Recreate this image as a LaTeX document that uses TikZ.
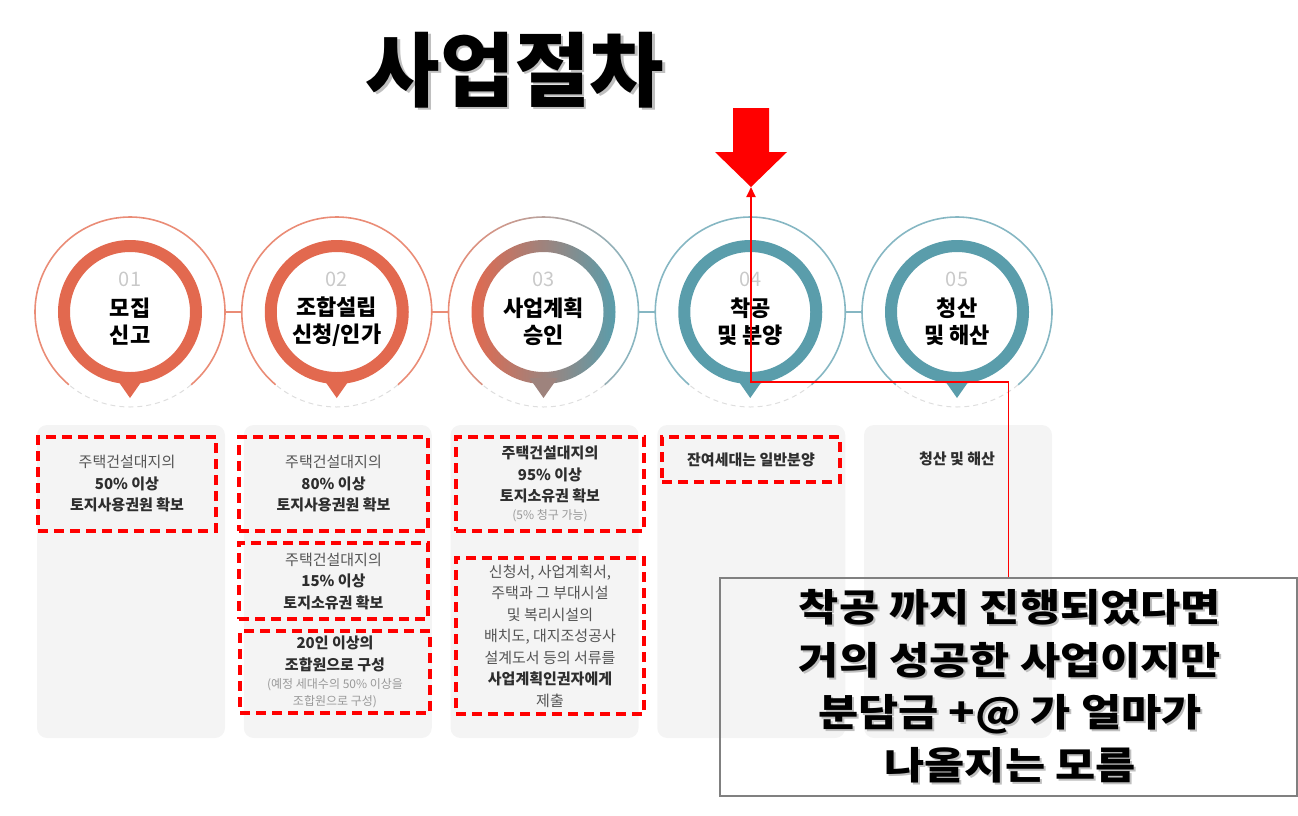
\documentclass[tikz,border=0pt]{standalone}
\usepackage{fontspec}
\setmainfont{Noto Sans CJK KR}
\newfontfamily\widefont{Noto Sans CJK KR}[FakeStretch=1.15]
\usetikzlibrary{arrows.meta}
\definecolor{sorange}{HTML}{E2694F}
\definecolor{sorangel}{HTML}{EA8C76}
\definecolor{steal}{HTML}{5A9DAB}
\definecolor{steall}{HTML}{86B7C3}
\definecolor{cardgray}{HTML}{F4F4F4}
\definecolor{numgray}{HTML}{C9C9C9}
\definecolor{txtdark}{HTML}{2E2E2E}
\definecolor{txtgray}{HTML}{555555}
\definecolor{gapgray}{HTML}{DEDEDE}
\tikzset{
  card/.style={fill=cardgray, rounded corners=10pt, minimum width=188pt, minimum height=313pt, inner sep=0pt},
  redbox/.style={draw=red, line width=3.2pt, dash pattern=on 10pt off 6pt, align=center, inner sep=0pt,
    text=txtgray, font=\fontsize{15}{21.5}\selectfont},
  numtext/.style={text=numgray, font=\fontsize{20}{20}\selectfont},
  steptext/.style={align=center, text=black, font=\fontsize{22}{27}\bfseries},
  gapline/.style={gapgray, line width=1pt, dash pattern=on 5pt off 4pt},
  notebox/.style={draw=black!50, line width=1.3pt, minimum width=577pt, minimum height=218pt},
  notefont/.style={align=center, font=\widefont\fontsize{38}{52.5}\bfseries}
}
\newcommand{\sm}[1]{{\fontsize{12}{15}\selectfont\color{black!40}#1}}
\begin{document}
\begin{tikzpicture}[x=1pt,y=-1pt]
  \useasboundingbox (0,0) rectangle (1298,815);
  \node[text=black!25, font=\fontsize{81}{81}\bfseries] at (517.5,72.5) {사업절차};
  \node[font=\fontsize{81}{81}\bfseries] (title) at (515,70) {사업절차};
  \foreach \i/\x in {1/130,2/336.75,3/543.5,4/750.25,5/957} {
    \node[card] (bg\i) at (\x+1,581.5) {};
    \node[circle, minimum size=190pt, inner sep=0pt] (ph\i) at (\x,312) {};
  }
  \draw[sorangel, line width=1.6pt] (ph1.east) -- (ph2.west);
  \draw[sorangel, line width=1.6pt] (ph2.east) -- (ph3.west);
  \draw[steall, line width=1.6pt] (ph3.east) -- (ph4.west);
  \draw[steall, line width=1.6pt] (ph4.east) -- (ph5.west);
  \foreach \x/\c/\cl in {130/sorange/sorangel,336.75/sorange/sorangel,750.25/steal/steall,957/steal/steall} {
    \draw[\cl, line width=1.6pt] (\x,312) ++(130:95) arc[start angle=130, end angle=410, radius=95];
    \draw[gapline] (\x,312) ++(50:95) arc[start angle=50, end angle=130, radius=95];
    \draw[\c, line width=12pt] (\x,312) circle[radius=66];
    \fill[\c] (\x-14,378) -- (\x+14,378) -- (\x,398) -- cycle;
  }
  \begin{scope}
    \clip (543.5,312) -- +(130:140) -- +(180:200) -- +(270:200) -- +(0:200) -- +(50:140) -- cycle;
    \shade[left color=sorangel, right color=steall, even odd rule] (543.5,312) circle[radius=95.8] circle[radius=94.2];
  \end{scope}
  \draw[gapline] (543.5,312) ++(50:95) arc[start angle=50, end angle=130, radius=95];
  \shade[left color=sorange, right color=steal, even odd rule] (543.5,312) circle[radius=72] circle[radius=60];
  \fill[sorange!50!steal] (529.5,378) -- (557.5,378) -- (543.5,398) -- cycle;
  \foreach \x/\num/\lbl in {130/01/{모집\\신고},336.75/02/{조합설립\\신청/인가},543.5/03/{사업계획\\승인},
      750.25/04/{착공\\및 분양},957/05/{청산\\및 해산}} {
    \node[numtext] at (\x,279) {\num};
    \node[steptext] at (\x,322) {\lbl};
  }
  \node[redbox, minimum width=178pt, minimum height=94pt] (b1) at (127,484)
    {주택건설대지의\\\textbf{\color{txtdark}50\% 이상}\\\textbf{\color{txtdark}토지사용권원 확보}};
  \node[redbox, minimum width=189pt, minimum height=94pt] (b2a) at (333.5,484)
    {주택건설대지의\\\textbf{\color{txtdark}80\% 이상}\\\textbf{\color{txtdark}토지사용권원 확보}};
  \node[redbox, minimum width=189pt, minimum height=76pt] (b2b) at (333.5,581)
    {주택건설대지의\\\textbf{\color{txtdark}15\% 이상}\\\textbf{\color{txtdark}토지소유권 확보}};
  \node[redbox, minimum width=190pt, minimum height=82pt] (b2c) at (335,672)
    {\textbf{\color{txtdark}20인 이상의}\\\textbf{\color{txtdark}조합원으로 구성}\\[-3pt]\sm{(예정 세대수의 50\% 이상을}\\[-5pt]\sm{조합원으로 구성)}};
  \node[redbox, minimum width=188pt, minimum height=94pt] (b3a) at (550,484)
    {\textbf{\color{txtdark}주택건설대지의}\\\textbf{\color{txtdark}95\% 이상}\\\textbf{\color{txtdark}토지소유권 확보}\\[-4pt]\sm{(5\% 청구 가능)}};
  \node[redbox, minimum width=188pt, minimum height=156pt] (b3b) at (550,636)
    {신청서, 사업계획서,\\주택과 그 부대시설\\및 복리시설의\\배치도, 대지조성공사\\설계도서 등의 서류를\\\textbf{\color{txtdark}사업계획인권자에게}\\제출};
  \node[redbox, minimum width=178pt, minimum height=45pt] (b4) at (751,459.5)
    {\textbf{\color{txtdark}잔여세대는 일반분양}};
  \node[text=txtdark, font=\fontsize{15}{21.5}\bfseries] (b5) at (957,459) {청산 및 해산};
  \node[notebox] (note) at (1008.5,687) {};
  \node[notefont, text=black!25] at (1012,688)
    {착공 까지 진행되었다면\\거의 성공한 사업이지만\\분담금 +@ 가 얼마가\\나올지는 모름};
  \node[notefont] (notetext) at (1010,686)
    {착공 까지 진행되었다면\\거의 성공한 사업이지만\\분담금 +@ 가 얼마가\\나올지는 모름};
  \fill[red] (733,108) -- (769,108) -- (769,152) -- (787,152) -- (751,187) -- (715,152) -- (733,152) -- cycle;
  \coordinate (tip) at (751,187);
  \coordinate (bend) at (751,382);
  \draw[red, line width=1.8pt, -{Triangle[width=9pt,length=10pt]}] (note.north) |- (bend) -- (tip);
\end{tikzpicture}
\end{document}
